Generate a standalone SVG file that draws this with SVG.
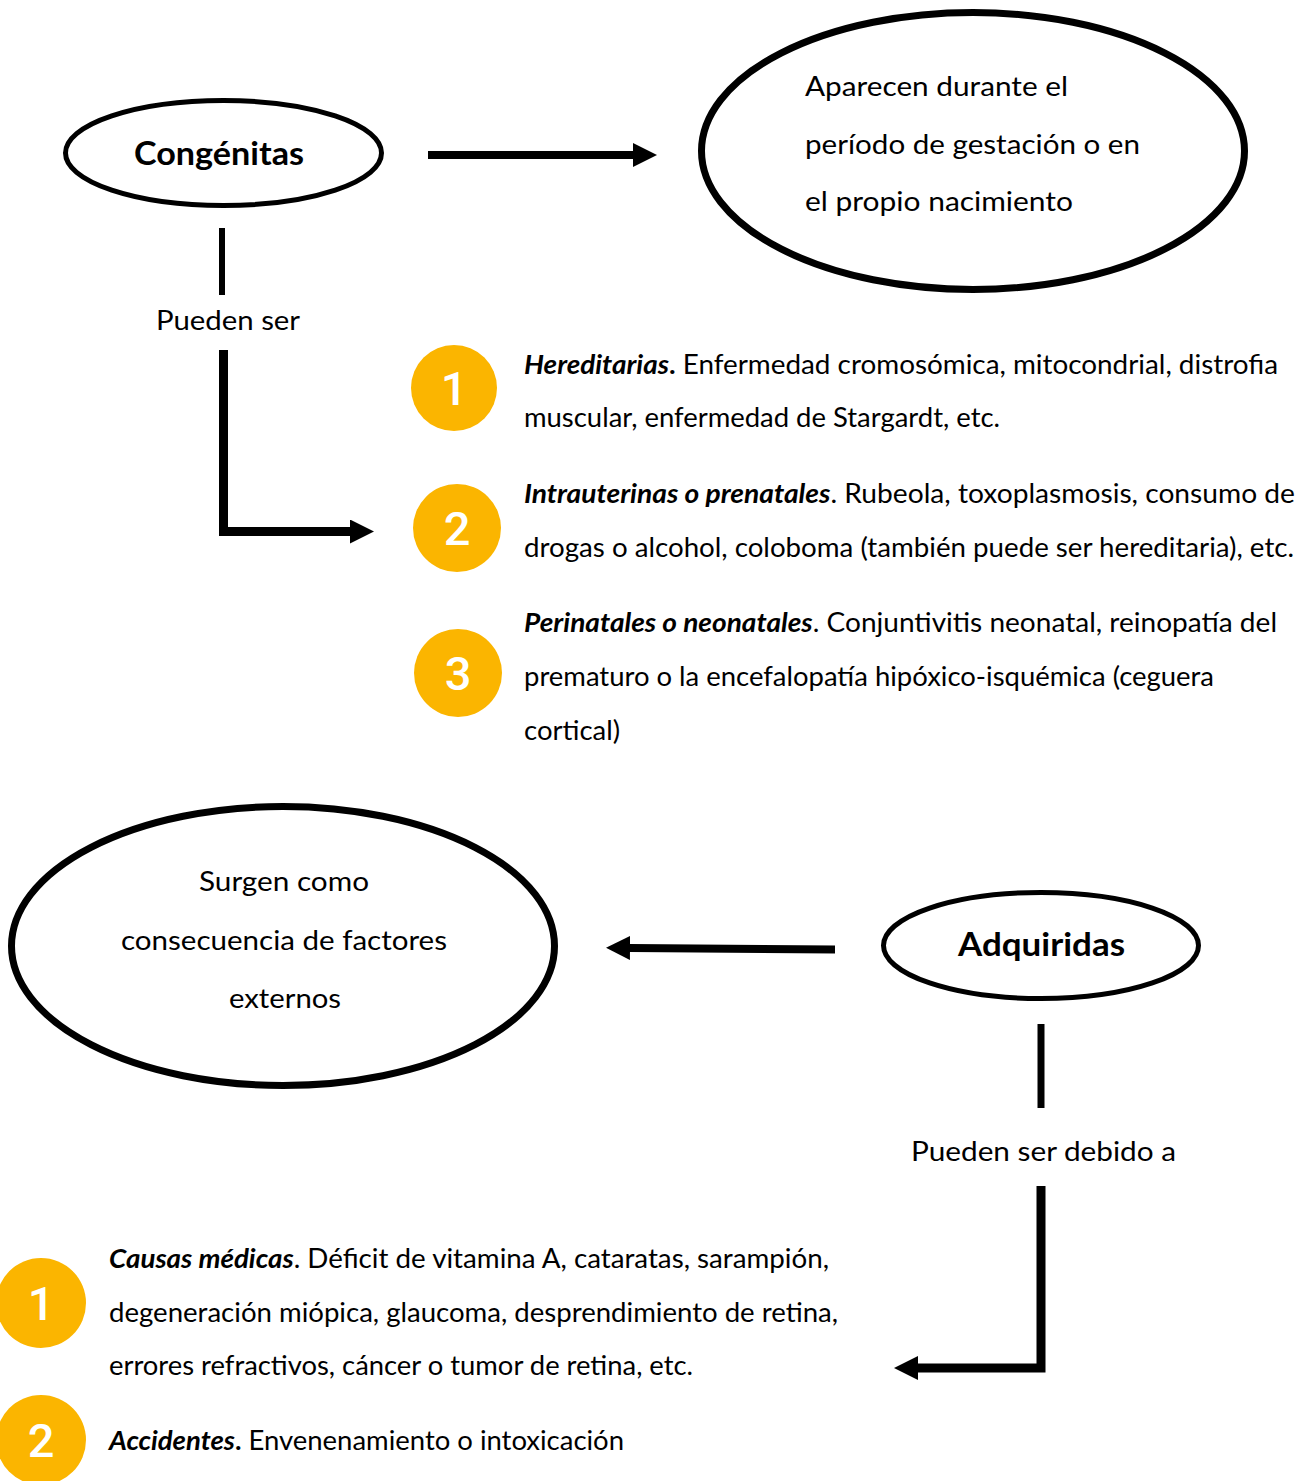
<svg xmlns="http://www.w3.org/2000/svg" width="1306" height="1481" viewBox="0 0 1306 1481">
<style>
.t{font-family:Lato,"Open Sans",sans-serif;font-size:27px;fill:#000}
.b{font-weight:700;font-style:italic}
.bn{font-weight:700}
.h{font-family:Lato,"Open Sans",sans-serif;font-size:33px;font-weight:700;fill:#000}
.el{fill:none;stroke:#000}
.num{fill:#FBB500}
.nt{font-family:Roboto,sans-serif;font-size:47px;font-weight:500;fill:#fff}
.ln{fill:none;stroke:#000;stroke-linecap:butt}
</style>
<defs>
<marker id="ah" markerUnits="userSpaceOnUse" markerWidth="24" markerHeight="24" refX="0" refY="12" orient="auto"><path d="M0,0 L24,12 L0,24 z" fill="#000"/></marker>
</defs>
<rect width="1306" height="1481" fill="#fff"/>
<g id="connectors">
<path class="ln" d="M428,155 L633,155" stroke-width="8" marker-end="url(#ah)"/>
<path class="ln" d="M222,228 L222,295" stroke-width="6"/>
<path class="ln" d="M223.5,350 L223.5,531.5 L350,531.5" stroke-width="9" marker-end="url(#ah)"/>
<path class="ln" d="M835,949.5 L630,948" stroke-width="8" marker-end="url(#ah)"/>
<path class="ln" d="M1041,1024 L1041,1108" stroke-width="7"/>
<path class="ln" d="M1041,1186 L1041,1368 L918,1368" stroke-width="9" marker-end="url(#ah)"/>
</g>
<g id="congenitas">
<ellipse class="el" cx="223.5" cy="153" rx="158" ry="52.5" stroke-width="5"/>
<text class="h" x="219" y="165" text-anchor="middle" textLength="170" lengthAdjust="spacingAndGlyphs">Congénitas</text>
</g>
<g id="aparecen">
<ellipse class="el" cx="973" cy="151" rx="271.5" ry="138.5" stroke-width="7"/>
<text class="t" x="805" y="96" textLength="263" lengthAdjust="spacingAndGlyphs">Aparecen durante el</text>
<text class="t" x="805" y="154" textLength="335" lengthAdjust="spacingAndGlyphs">período de gestación o en</text>
<text class="t" x="805" y="211" textLength="268" lengthAdjust="spacingAndGlyphs">el propio nacimiento</text>
</g>
<g id="pueden-ser">
<text class="t" x="156" y="330" textLength="144" lengthAdjust="spacingAndGlyphs">Pueden ser</text>
</g>
<g id="hereditarias">
<circle class="num" cx="454" cy="388" r="43"/>
<text class="nt" x="454" y="405" text-anchor="middle">1</text>
<text class="t" x="524" y="374" textLength="754" lengthAdjust="spacingAndGlyphs"><tspan class="b">Hereditarias</tspan><tspan class="bn">.</tspan> Enfermedad cromosómica, mitocondrial, distrofia</text>
<text class="t" x="524" y="427" textLength="476" lengthAdjust="spacingAndGlyphs">muscular, enfermedad de Stargardt, etc.</text>
</g>
<g id="intrauterinas">
<circle class="num" cx="457" cy="528" r="44"/>
<text class="nt" x="457" y="545" text-anchor="middle">2</text>
<text class="t" x="524" y="503" textLength="771" lengthAdjust="spacingAndGlyphs"><tspan class="b">Intrauterinas o prenatales</tspan>. Rubeola, toxoplasmosis, consumo de</text>
<text class="t" x="524" y="557" textLength="770" lengthAdjust="spacingAndGlyphs">drogas o alcohol, coloboma (también puede ser hereditaria), etc.</text>
</g>
<g id="perinatales">
<circle class="num" cx="458" cy="673" r="44"/>
<text class="nt" x="458" y="690" text-anchor="middle">3</text>
<text class="t" x="524" y="632" textLength="753" lengthAdjust="spacingAndGlyphs"><tspan class="b">Perinatales o neonatales</tspan>. Conjuntivitis neonatal, reinopatía del</text>
<text class="t" x="524" y="686" textLength="690" lengthAdjust="spacingAndGlyphs">prematuro o la encefalopatía hipóxico-isquémica (ceguera</text>
<text class="t" x="524" y="740" textLength="96" lengthAdjust="spacingAndGlyphs">cortical)</text>
</g>
<g id="surgen">
<ellipse class="el" cx="283" cy="946" rx="271.5" ry="139.5" stroke-width="7"/>
<text class="t" x="284" y="891" text-anchor="middle" textLength="170" lengthAdjust="spacingAndGlyphs">Surgen como</text>
<text class="t" x="284" y="950" text-anchor="middle" textLength="326" lengthAdjust="spacingAndGlyphs">consecuencia de factores</text>
<text class="t" x="285" y="1008" text-anchor="middle" textLength="112" lengthAdjust="spacingAndGlyphs">externos</text>
</g>
<g id="adquiridas">
<ellipse class="el" cx="1041" cy="945.5" rx="157.5" ry="53" stroke-width="5"/>
<text class="h" x="1041.5" y="956" text-anchor="middle" textLength="167" lengthAdjust="spacingAndGlyphs">Adquiridas</text>
</g>
<g id="pueden-ser-debido">
<text class="t" x="911" y="1161" textLength="265" lengthAdjust="spacingAndGlyphs">Pueden ser debido a</text>
</g>
<g id="causas-medicas">
<circle class="num" cx="41" cy="1303" r="45"/>
<text class="nt" x="41" y="1320" text-anchor="middle">1</text>
<text class="t" x="109" y="1268" textLength="720" lengthAdjust="spacingAndGlyphs"><tspan class="b">Causas médicas</tspan>. Déficit de vitamina A, cataratas, sarampión,</text>
<text class="t" x="109" y="1322" textLength="729" lengthAdjust="spacingAndGlyphs">degeneración miópica, glaucoma, desprendimiento de retina,</text>
<text class="t" x="109" y="1375" textLength="584" lengthAdjust="spacingAndGlyphs">errores refractivos, cáncer o tumor de retina, etc.</text>
</g>
<g id="accidentes">
<circle class="num" cx="41" cy="1440" r="45"/>
<text class="nt" x="41" y="1457" text-anchor="middle">2</text>
<text class="t" x="109" y="1450" textLength="515" lengthAdjust="spacingAndGlyphs"><tspan class="b">Accidentes</tspan><tspan class="bn">.</tspan> Envenenamiento o intoxicación</text>
</g>
</svg>
